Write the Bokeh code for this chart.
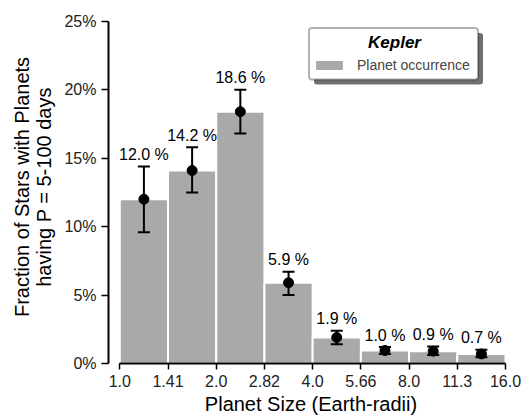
import numpy as np
from bokeh.plotting import figure
from bokeh.models import (ColumnDataSource, FixedTicker, Whisker, TeeHead, BoxAnnotation,
                          Label, Legend, LegendItem, Range1d)
from bokeh.embed import file_html
from bokeh.resources import INLINE
from bokeh.core.properties import value

# ---- data ----
size_edges = ["1.0", "1.41", "2.0", "2.82", "4.0", "5.66", "8.0", "11.3", "16.0"]
occurrence = [12.0, 14.1, 18.4, 5.9, 1.9, 0.95, 0.9, 0.7]
err_upper = [14.4, 15.8, 20.0, 6.7, 2.4, 1.2, 1.25, 1.0]
err_lower = [9.6, 12.5, 16.8, 5.0, 1.4, 0.7, 0.63, 0.46]
value_labels = ["12.0 %", "14.2 %", "18.6 %", "5.9 %", "1.9 %", "1.0 %", "0.9 %", "0.7 %"]
y_ticks = [0, 5, 10, 15, 20, 25]
y_tick_labels = ["0%", "5%", "10%", "15%", "20%", "25%"]

FONT = "Liberation Sans"
n = len(occurrence)
left = np.arange(n)
src = ColumnDataSource(dict(
    left=left, right=left + 1, center=left + 0.5,
    top=occurrence, bottom=[0] * n,
    upper=err_upper, lower=err_lower, label=value_labels,
))

# ---- geometry (pixels) ----
W, H = 523, 418
FL, FR, FT, FB = 108, 513, 10, 363
X0PX = 119.3
PX_PER_BIN = (505.0 - 119.3) / 8
PX_PER_PCT = (362.3 - 20.2) / 25
x_start = (FL - X0PX) / PX_PER_BIN
x_end = (FR - X0PX) / PX_PER_BIN
y_end = (FB - FT) / PX_PER_PCT


def dx(px):
    return (px - X0PX) / PX_PER_BIN


def dy(py):
    return (FB - py) / PX_PER_PCT


p = figure(width=W, height=H, x_range=Range1d(x_start, x_end), y_range=Range1d(0, y_end),
           output_backend="svg", toolbar_location=None,
           min_border_left=FL, min_border_right=W - FR, min_border_top=FT, min_border_bottom=H - FB)
p.outline_line_color = None
p.grid.visible = False
p.background_fill_color = "white"

# axes
for ax in (p.xaxis[0], p.yaxis[0]):
    ax.axis_line_width = 2
    ax.axis_line_color = "black"
    ax.major_tick_line_width = 1.5
    ax.major_tick_line_color = "black"
    ax.major_tick_in = 0
    ax.minor_tick_line_color = None
    ax.major_label_text_font = FONT
    ax.major_label_text_font_size = "16px"
    ax.major_label_text_color = "#222222"
    ax.axis_label_text_font = FONT
    ax.axis_label_text_font_size = "20px"
    ax.axis_label_text_font_style = "normal"
    ax.axis_label_text_color = "black"

p.xaxis.bounds = (0, n)
p.xaxis.ticker = FixedTicker(ticks=list(range(n + 1)))
p.xaxis.major_label_overrides = {i: s for i, s in enumerate(size_edges)}
p.xaxis.major_tick_out = 6
p.xaxis.major_label_standoff = 5
p.xaxis.axis_label = "Planet Size (Earth-radii)"
p.xaxis.axis_label_standoff = 3

p.yaxis.bounds = (0, 25)
p.yaxis.ticker = FixedTicker(ticks=y_ticks)
p.yaxis.major_label_overrides = {t: s for t, s in zip(y_ticks, y_tick_labels)}
p.yaxis.major_tick_out = 7
p.yaxis.major_label_standoff = 5
p.yaxis.axis_label = "Fraction of Stars with Planets\nhaving P = 5-100 days"
p.yaxis.axis_label_standoff = 6
p.yaxis.axis_label_text_line_height = 1.0

bars = p.quad(left="left", right="right", top="top", bottom="bottom", source=src,
              fill_color="#a9a9a9", line_color="white", line_width=2)

whisk = Whisker(source=src, base="center", upper="upper", lower="lower",
                line_width=2, line_color="black", level="overlay",
                upper_head=TeeHead(size=12, line_width=2, line_color="black"),
                lower_head=TeeHead(size=12, line_width=2, line_color="black"))
p.add_layout(whisk)
p.scatter("center", "top", source=src, size=10, color="black", level="overlay")
p.text(x="center", y="upper", text="label", source=src, text_align="center",
       text_baseline="middle", y_offset=-12, text_font=value(FONT),
       text_font_size="16px", text_color="black")

# legend box with shadow
shadow = BoxAnnotation(left=dx(313.5), right=dx(482.5), top=dy(32.5), bottom=dy(84),
                       fill_color="#707070", fill_alpha=1, line_color=None, border_radius=3)
box = BoxAnnotation(left=dx(308.5), right=dx(477.5), top=dy(27.5), bottom=dy(79),
                    fill_color="white", fill_alpha=1, line_color="black", line_width=2,
                    border_radius=3)
p.add_layout(shadow)
p.add_layout(box)
p.add_layout(Label(x=dx(394), y=dy(41.7), text="Kepler", text_align="center",
                   text_baseline="middle", text_font=FONT, text_font_size="17px",
                   text_font_style="bold italic", text_color="black"))

legend = Legend(items=[LegendItem(label="Planet occurrence", renderers=[bars])],
                location=(311 - FL, FB - 73), padding=0, margin=0,
                glyph_width=36, glyph_height=14, label_standoff=10, label_height=14,
                label_text_font=FONT, label_text_font_size="14px",
                background_fill_alpha=0, border_line_alpha=0)
p.add_layout(legend)

open("out.html", "w").write(file_html(p, INLINE))
